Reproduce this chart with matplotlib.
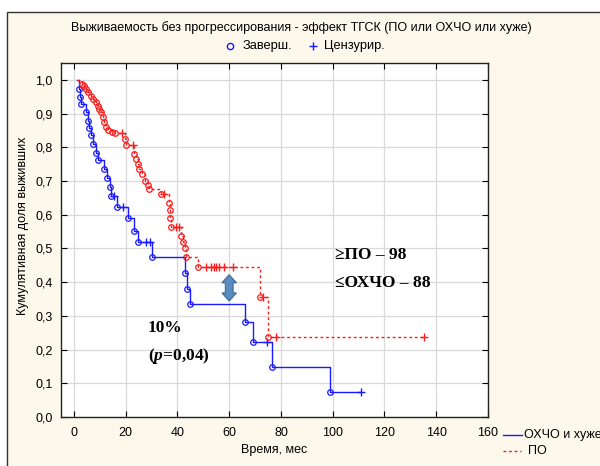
import numpy as np
import matplotlib.pyplot as plt
from matplotlib.patches import Rectangle, Polygon
from matplotlib.ticker import FuncFormatter, MultipleLocator

plt.rcParams['font.family'] = ['Liberation Sans', 'DejaVu Sans']
plt.rcParams['mathtext.fontset'] = 'custom'
plt.rcParams['mathtext.it'] = 'Liberation Serif:italic:bold'
plt.rcParams['mathtext.rm'] = 'Liberation Serif:bold'

# Kaplan-Meier data
# ОХЧО и хуже (blue, solid)
blue_t = [1.9, 2.5, 2.7, 4.6, 5.5, 5.9, 6.5, 7.3, 8.5, 9.3, 11.5, 12.6, 13.9, 14.3,
          16.6, 21.0, 23.3, 24.6, 30.1, 42.9, 43.6, 45.0, 66.1, 69.1, 76.5, 98.9]
blue_s = [0.973, 0.950, 0.929, 0.904, 0.879, 0.858, 0.835, 0.811, 0.784, 0.761, 0.735,
          0.710, 0.681, 0.655, 0.623, 0.589, 0.553, 0.518, 0.475, 0.427, 0.381, 0.335,
          0.281, 0.221, 0.147, 0.075]
blue_cens = [15.6, 19.1, 28.0, 29.4, 74.6, 110.8]

# ПО (red, dashed)
red_t = [3.1, 3.9, 4.6, 5.3, 6.6, 7.5, 8.5, 9.2, 9.8, 10.4, 11.1, 11.7, 12.4, 13.0,
         14.6, 16.0, 19.8, 20.1, 23.3, 24.0, 24.6, 25.2, 26.2, 27.4, 28.5, 29.1, 33.6,
         36.8, 37.2, 37.3, 37.5, 41.4, 42.0, 42.9, 43.3, 48.0, 72.0, 74.9]
red_s = [0.989, 0.982, 0.973, 0.963, 0.953, 0.943, 0.933, 0.923, 0.914, 0.904, 0.889,
         0.874, 0.859, 0.850, 0.846, 0.842, 0.825, 0.808, 0.781, 0.766, 0.751, 0.737,
         0.722, 0.700, 0.687, 0.675, 0.661, 0.635, 0.614, 0.589, 0.564, 0.537, 0.520,
         0.501, 0.476, 0.446, 0.356, 0.237]
red_cens = [18.5, 22.7, 34.9, 39.4, 40.7, 51.0, 52.9, 54.0, 54.9, 56.2, 58.1, 61.3,
            73.2, 78.2, 135.4]

start_t = 1.0
blue_c = '#1a1aff'
red_c = '#ff1a1a'


def surv_at(times, surv, t):
    idx = np.searchsorted(times, t, side='right') - 1
    return np.where(idx < 0, 1.0, np.asarray(surv)[np.clip(idx, 0, None)])


fig = plt.figure(figsize=(6.0, 4.66), dpi=100)
fig.patch.set_facecolor('white')
fig.add_artist(Rectangle((7/600, -0.05), 1.2, 1 - 12/466 + 0.05, transform=fig.transFigure,
                         facecolor='#fcf8ec', edgecolor='#333333', lw=1.0, zorder=-10))

ax = fig.add_axes([61/600, 1 - 417/466, 427/600, 354/466])
ax.set_facecolor('white')

for t, s, cens, col, ls in [(blue_t, blue_s, blue_cens, blue_c, '-'),
                            (red_t, red_s, red_cens, red_c, (0, (2, 2)))]:
    end = max(max(cens), max(t))
    xs = [start_t] + list(t) + [end]
    ys = [1.0] + list(s) + [s[-1]]
    ax.step(xs, ys, where='post', color=col, lw=1.0, ls=ls, zorder=3)
    ax.plot(t, s, 'o', mfc='none', mec=col, ms=4, mew=0.9, zorder=4)
    ax.plot(cens, surv_at(t, s, cens), '+', color=col, ms=6, mew=1.0, zorder=4)

ax.set_xlim(-5, 160)
ax.set_ylim(0, 1.05)
ax.xaxis.set_major_locator(MultipleLocator(20))
ax.yaxis.set_major_locator(MultipleLocator(0.1))
ax.yaxis.set_major_formatter(FuncFormatter(lambda v, p: f'{v:.1f}'.replace('.', ',')))
ax.grid(True, color='#d9d9d9', lw=0.9)
ax.set_axisbelow(True)
ax.tick_params(direction='in', top=True, right=True, length=4, labelsize=9, pad=6)
ax.tick_params(axis='x', pad=7)
for sp in ax.spines.values():
    sp.set_color('#222222')
    sp.set_linewidth(1.0)

ax.set_xlabel('Время, мес', fontsize=9, labelpad=4)
ax.set_ylabel('Кумулятивная доля выживших', fontsize=9)
ax.yaxis.set_label_coords(-0.075, 0.54)

# header
fig.text(0.502, 1 - 28/466, 'Выживаемость без прогрессирования - эффект ТГСК (ПО или ОХЧО или хуже)',
         ha='center', va='center', fontsize=9)
fig.add_artist(plt.Line2D([230/600], [1 - 46/466], marker='o', mfc='none', mec=blue_c,
                          ms=4.5, mew=1.0, transform=fig.transFigure))
fig.text(243/600, 1 - 46/466, 'Заверш.', ha='left', va='center', fontsize=9.3)
fig.add_artist(plt.Line2D([313/600], [1 - 46/466], marker='+', color=blue_c,
                          ms=6, mew=1.0, transform=fig.transFigure))
fig.text(324/600, 1 - 46/466, 'Цензурир.', ha='left', va='center', fontsize=9.3)

# bottom-right legend (cut by the figure edge, as in the source)
fig.add_artist(plt.Line2D([503/600, 522/600], [1 - 435/466] * 2, color=blue_c, lw=1.0,
                          transform=fig.transFigure))
fig.add_artist(plt.Line2D([503/600, 521/600], [1 - 451/466] * 2, color=red_c, lw=1.0,
                          ls=(0, (2, 2)), transform=fig.transFigure))
fig.text(524/600, 1 - 435/466, 'ОХЧО и хуже', ha='left', va='center', fontsize=9)
fig.text(528/600, 1 - 451/466, 'ПО', ha='left', va='center', fontsize=9)

# annotations
serif = dict(family=['Liberation Serif', 'DejaVu Serif'], fontweight='bold', fontsize=12.5)
ax.text(101.0, 0.48, '≥ПО – 98', ha='left', va='center', **serif)
ax.text(101.0, 0.397, '≤ОХЧО – 88', ha='left', va='center', **serif)
ax.text(28.5, 0.264, '10%', ha='left', va='center', **serif)
ax.text(28.5, 0.181, '($\\mathit{p}$=0,04)', ha='left', va='center', **serif)

# double block arrow
cx, top, bot = 60.0, 0.422, 0.344
bw, hw, hl = 1.5, 2.8, 0.024
arrow = Polygon([(cx, top), (cx + hw, top - hl), (cx + bw, top - hl), (cx + bw, bot + hl),
                 (cx + hw, bot + hl), (cx, bot), (cx - hw, bot + hl), (cx - bw, bot + hl),
                 (cx - bw, top - hl), (cx - hw, top - hl)], closed=True,
                facecolor='#5a8cc0', edgecolor='#3b6a9a', lw=0.8, zorder=5)
ax.add_patch(arrow)

fig.savefig('out.png', dpi=100)
